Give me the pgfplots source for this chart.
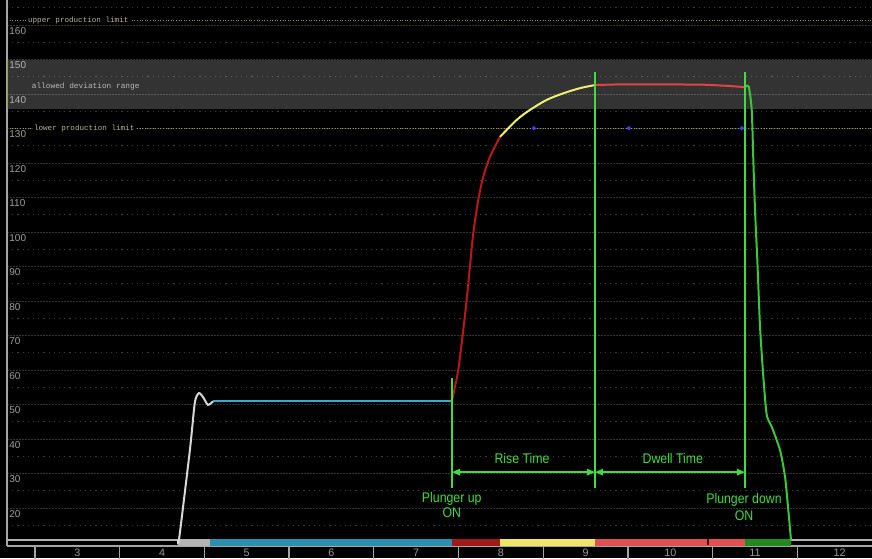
\documentclass[border=0pt]{standalone}
\usepackage{fontspec}
\setmainfont{Liberation Sans}
\newfontfamily\monofont{Liberation Mono}
\newfontfamily\narrowfont[FakeStretch=0.88]{Liberation Sans}
\usepackage{pgfplots}
\pgfplotsset{compat=1.18}
\usetikzlibrary{arrows.meta}

\definecolor{gridmaj}{HTML}{343434}
\definecolor{gridmin}{HTML}{3C3C3C}
\definecolor{limline}{HTML}{9C9C48}
\definecolor{limtext}{HTML}{B8B890}
\definecolor{sigwhite}{HTML}{D8D8D8}
\definecolor{sigblue}{HTML}{38A8D0}
\definecolor{sigred}{HTML}{B81818}
\definecolor{sigyel}{HTML}{F0F070}
\definecolor{sigsalmon}{HTML}{E04444}
\definecolor{siggreen}{HTML}{38C838}
\definecolor{annot}{HTML}{40DC40}
\definecolor{bargray}{HTML}{B4B4B4}
\definecolor{barblue}{HTML}{2A90B0}
\definecolor{barred}{HTML}{A01818}
\definecolor{baryel}{HTML}{F0E468}
\definecolor{barsalmon}{HTML}{E05050}
\definecolor{bargreen}{HTML}{208A20}

\begin{document}
\begin{tikzpicture}
% 1 px of the reference = 0.5pt
\path[use as bounding box, fill=black] (-3.5pt,0pt) rectangle (432.5pt,-279pt);
\clip (-3.5pt,0pt) rectangle (432.5pt,-279pt);
\begin{axis}[
    at={(0pt,0pt)}, anchor=north west,
    scale only axis, width=432.5pt, height=273pt,
    xmin=2.17, xmax=12.381, ymin=8.99, ymax=167.25,
    axis x line*=bottom, axis y line*=left,
    axis line style={draw=gray!70, line width=0.6pt, -},
    ytick={20,30,...,160}, minor ytick={15,25,...,165},
    ymajorgrids, yminorgrids,
    major grid style={draw=gridmaj, dash pattern=on 0.8pt off 0.7pt, line width=0.4pt},
    minor grid style={draw=gridmin, dash pattern=on 0.6pt off 2pt, line width=0.4pt},
    major tick length=0pt, minor tick length=0pt,
    /pgf/number format/assume math mode=true,
    yticklabel style={anchor=north west, inner sep=1pt, font=\fontsize{5}{5}\selectfont, text=gray!75},
    xtick={3,...,12},
    xticklabel style={anchor=north, inner sep=0pt, yshift=-1.3pt, font=\fontsize{5.4}{5.4}\selectfont, text=gray!80},
    extra x ticks={2.5,3.5,...,11.5},
    extra x tick labels={},
    extra x tick style={grid=none, major tick length=7pt, tick align=outside,
        tick style={draw=gray!70, line width=0.6pt}},
]
% allowed deviation range
\addplot[draw=none, fill=white, fill opacity=0.2] coordinates {(2.17,135.65) (12.381,135.65) (12.381,149.9) (2.17,149.9)};
% production limits
\addplot[limline, dash pattern=on 0.5pt off 0.8pt, line width=0.4pt] coordinates {(2.17,161.4) (12.381,161.4)};
\addplot[limline, dash pattern=on 0.5pt off 0.8pt, line width=0.4pt] coordinates {(2.17,130.1) (12.381,130.1)};
\addplot[limline, line width=0.8pt] coordinates {(2.178,135.65) (2.178,149.9)};
\node[anchor=west, font=\monofont\fontsize{3.8}{4}\selectfont, text=limtext, fill=black, inner sep=0.6pt] at (axis cs:2.40,161.4) {upper production limit};
\node[anchor=west, font=\monofont\fontsize{3.8}{4}\selectfont, text=limtext, fill=black, inner sep=0.6pt] at (axis cs:2.47,130.1) {lower production limit};
\node[anchor=west, font=\monofont\fontsize{3.9}{4}\selectfont, text=gray!55] at (axis cs:2.38,142.3) {allowed deviation range};

% set points
\addplot[only marks, mark=*, mark size=0.8pt, color=blue!75!white] coordinates {(8.39,130.1) (9.51,130.1) (10.846,130.1)};

% stage bar
\addplot[gray!60, line width=1pt] coordinates {(2.17,10.72) (4.188,10.72)};
\addplot[gray!60, line width=1pt] coordinates {(11.424,10.72) (12.381,10.72)};
\addplot[bargray, line width=3.5pt] coordinates {(4.188,10.0) (4.566,10.0)};
\addplot[barblue, line width=3.5pt] coordinates {(4.566,10.0) (7.423,10.0)};
\addplot[barred, line width=3.5pt] coordinates {(7.423,10.0) (7.990,10.0)};
\addplot[baryel, line width=3.5pt] coordinates {(7.990,10.0) (9.111,10.0)};
\addplot[barsalmon, line width=3.5pt] coordinates {(9.111,10.0) (10.881,10.0)};
\addplot[bargreen, line width=3.5pt] coordinates {(10.881,10.0) (11.424,10.0)};
\addplot[black!70!red, line width=0.6pt] coordinates {(10.445,9.3) (10.445,10.9)};

% pressure curve
\addplot[sigwhite, line width=1pt, smooth, tension=0.4] coordinates {
(4.188,10.72) (4.203,11.3) (4.329,36.8) (4.388,50.7) (4.436,53.3) (4.483,52.2) (4.542,49.9) (4.601,50.9)
};
\addplot[sigblue, line width=1pt] coordinates {(4.60,51.0) (7.423,51.0)};
\addplot[sigred, line width=1pt, smooth, tension=0.5] coordinates {
(7.423,51.0) (7.458,55.2) (7.497,60.0) (7.537,67.7) (7.596,80.3) (7.635,90.0) (7.674,99.6)
(7.733,109.3) (7.792,116.0) (7.871,121.8) (7.990,127.6)
};
\addplot[sigyel, line width=1pt, smooth, tension=0.5] coordinates {
(7.990,127.6) (8.187,132.5) (8.344,135.4) (8.541,138.3) (8.737,140.2) (8.934,141.7) (9.111,142.6)
};
\addplot[sigsalmon, line width=1pt] coordinates {
(9.111,142.6) (9.40,142.8) (10.0,142.8) (10.4,142.7) (10.65,142.4) (10.881,142.0)
};
\addplot[siggreen, line width=1pt, smooth, tension=0.4] coordinates {
(10.881,142.0) (10.926,142.1) (10.961,135.4) (10.980,120.9) (11.000,106.4) (11.027,91.9)
(11.059,72.6) (11.098,58.1) (11.138,47.0) (11.197,43.6) (11.295,36.8) (11.354,29.1)
(11.393,19.4) (11.421,11.7) (11.424,10.72)
};

% event markers
\addplot[annot, line width=1pt] coordinates {(7.423,25.8) (7.423,57.7)};
\addplot[annot, line width=1pt] coordinates {(9.111,25.8) (9.111,146.4)};
\addplot[annot, line width=1pt] coordinates {(10.881,25.8) (10.881,146.4)};
\draw[annot, line width=0.75pt, {Triangle[length=4pt,width=3.2pt]}-{Triangle[length=4pt,width=3.2pt]}]
  (axis cs:7.423,30.4) -- (axis cs:9.111,30.4);
\draw[annot, line width=0.75pt, {Triangle[length=4pt,width=3.2pt]}-{Triangle[length=4pt,width=3.2pt]}]
  (axis cs:9.111,30.4) -- (axis cs:10.881,30.4);
\node[text=annot, font=\narrowfont\fontsize{7}{7}\selectfont] at (axis cs:8.25,34.4) {Rise Time};
\node[text=annot, font=\narrowfont\fontsize{7}{7}\selectfont] at (axis cs:10.03,34.4) {Dwell Time};
\node[text=annot, align=center, inner sep=0pt, font=\narrowfont\fontsize{7}{7.5}\selectfont] at (axis cs:7.42,21.0) {Plunger up\\ON};
\node[text=annot, align=center, inner sep=0pt, font=\narrowfont\fontsize{7}{8.6}\selectfont] at (axis cs:10.87,20.4) {Plunger down\\ON};
\end{axis}
\end{tikzpicture}
\end{document}
